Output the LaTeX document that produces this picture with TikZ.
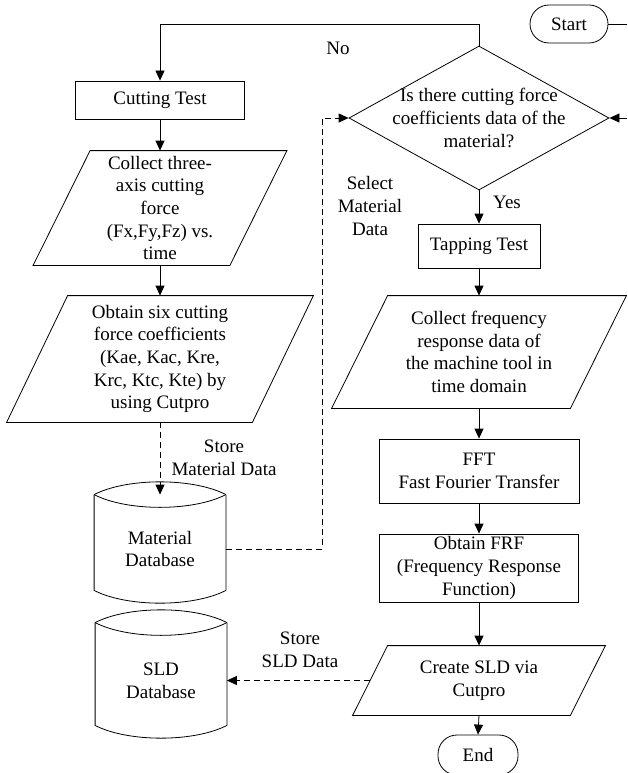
\documentclass[tikz,border=0pt]{standalone}
\usepackage{fontspec}
\setmainfont{Liberation Serif}
\usetikzlibrary{arrows.meta,shapes.geometric}

\begin{document}
\begin{tikzpicture}[x=1pt,y=-1pt,
  font=\fontsize{19}{22.7}\selectfont,
  line width=0.8pt,
  >={Triangle[length=10pt,width=9pt]},
  box/.style={draw, rectangle, align=center, inner sep=1pt},
  para/.style={rectangle, align=center, inner sep=0pt},
  drum/.style={rectangle, align=center, inner sep=0pt, minimum width=131pt},
  term/.style={draw, rectangle, rounded corners=19pt, align=center},
  dashline/.style={dash pattern=on 6pt off 4pt},
  lbl/.style={align=center, inner sep=1pt}
]
\useasboundingbox (0,0) rectangle (627,773);
\clip (0,0) rectangle (627,773);

% terminals and decision
\node[term, minimum width=78pt, minimum height=38pt] (start) at (569,24) {Start};
\node[diamond, draw, minimum width=260pt, minimum height=144pt, inner sep=0pt,
      label={[lbl]center:Is there cutting force\\coefficients data of the\\material?}] (dia) at (479,118) {};

% left column
\node[box, minimum width=169pt, minimum height=38pt] (ct) at (160,100) {Cutting Test};
\node[para, minimum width=196pt, minimum height=114pt] (p1) at (160,208)
  {Collect three-\\axis cutting\\force\\(Fx,Fy,Fz) vs.\\time};
\node[para, minimum width=245pt, minimum height=126pt] (p2) at (160,359)
  {Obtain six cutting\\force coefficients\\(Kae, Kac, Kre,\\Krc, Ktc, Kte) by\\using Cutpro};
\node[drum, minimum height=108pt] (mdb) at (160,549) {Material\\Database};
\node[drum, minimum height=115pt] (sld) at (161,680.5) {SLD\\Database};

% right column
\node[box, minimum width=122pt, minimum height=44pt] (tap) at (479,246) {Tapping Test};
\node[para, minimum width=238pt, minimum height=112pt] (p3) at (479,352)
  {Collect frequency\\response data of\\the machine tool in\\time domain};
\node[box, minimum width=200pt, minimum height=64pt] (fft) at (479,471) {FFT\\Fast Fourier Transfer};
\node[box, minimum width=199pt, minimum height=68pt] (frf) at (479,568)
  {Obtain FRF\\(Frequency Response\\Function)};
\node[para, minimum width=217pt, minimum height=69pt] (p4) at (479,680.5) {Create SLD via\\Cutpro};
\node[term, minimum width=80pt, minimum height=40pt] (end) at (478,755) {End};

% parallelogram outlines around the data nodes
\foreach \n/\s in {p1/28.5,p2/30.5,p3/28,p4/17.5}
  \draw ([xshift=-\s pt]\n.south west) -- ([xshift=-\s pt]\n.south east)
     -- ([xshift=\s pt]\n.north east) -- ([xshift=\s pt]\n.north west) -- cycle;

% database drums
\foreach \n in {mdb,sld} {
  \draw (\n.north west) .. controls +(33,-17) and +(-33,-17) .. (\n.north east);
  \draw (\n.north west) .. controls +(33,17) and +(-33,17) .. (\n.north east);
  \draw (\n.north west) -- ([yshift=13pt]\n.south west)
     .. controls +(33,17) and +(-33,17) .. ([yshift=13pt]\n.south east) -- (\n.north east);
}

% labels
\node[lbl] (no) at (338,48) {No};
\node[lbl] (yes) at (507,202) {Yes};
\node[lbl] (selmat) at (370,206) {Select\\Material\\Data};
\node[lbl] (stmat) at (224,458) {Store\\Material Data};
\node[lbl] (stsld) at (300,650) {Store\\SLD Data};

% connectors
\coordinate (startout) at (627,24);
\coordinate (feedin) at (627,118);
\draw (start.east) -- (startout);
\draw[->] (feedin) -- (dia.east);
\draw[->] (dia.north) -- ++(0,-21) -| (ct.north);
\draw[->] (ct.south) -- (p1.north);
\draw[->] (p1.south) -- (p2.north);
\draw[->, dashline] (p2.south) -- (mdb.north);
\draw[->, dashline] (mdb.east) -- ++(96,0) |- (dia.west);
\draw[->] (dia.south) -- (tap.north);
\draw[->] (tap.south) -- (p3.north);
\draw[->] (p3.south) -- (fft.north);
\draw[->] (fft.south) -- (frf.north);
\draw[->] (frf.south) -- (p4.north);
\draw[->] (p4.south) -- (end.north);
\draw[->, dashline] (p4.west) -- (p4.west -| sld.east);
\end{tikzpicture}
\end{document}
